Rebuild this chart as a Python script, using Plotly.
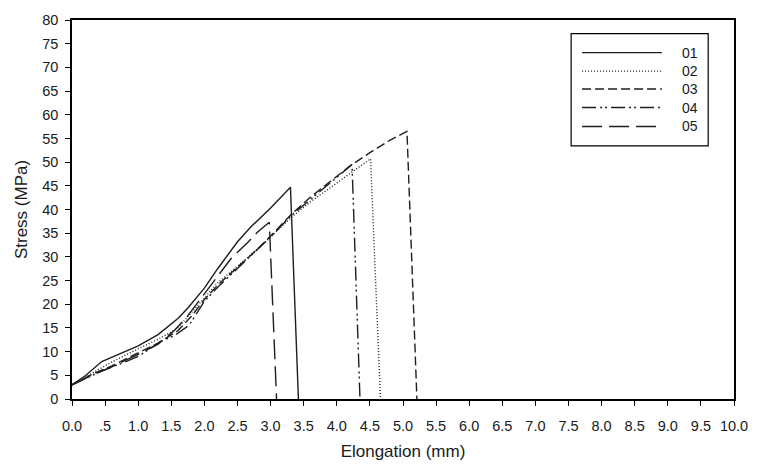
import plotly.graph_objects as go

# Stress–elongation curves for five specimens (elongation in mm, stress in MPa)
names = ["01", "02", "03", "04", "05"]

x01 = [0, 0.2, 0.45, 0.7, 1.0, 1.3, 1.6, 1.75, 2.0, 2.2, 2.5, 2.7, 3.0, 3.3, 3.42]
y01 = [3, 4.9, 7.9, 9.4, 11.2, 13.6, 17.0, 19.2, 23.4, 27.5, 33.2, 36.3, 40.3, 44.7, 0]

x02 = [0, 0.3, 0.6, 1.0, 1.3, 1.6, 1.8, 2.0, 2.2, 2.5, 2.8, 3.0, 3.3, 3.6, 3.9, 4.2, 4.51, 4.66]
y02 = [3, 5.4, 7.8, 10.6, 12.6, 15.0, 18.2, 21.5, 24.5, 28.0, 31.6, 34.2, 38.2, 41.6, 44.6, 47.6, 50.7, 0]

x03 = [0, 0.3, 0.6, 1.0, 1.3, 1.6, 1.8, 2.0, 2.2, 2.5, 2.8, 3.0, 3.3, 3.6, 3.9, 4.2, 4.5, 4.8, 5.06, 5.21]
y03 = [3, 5.2, 7.0, 9.8, 11.8, 14.4, 17.4, 21.0, 24.0, 27.8, 31.6, 34.4, 38.8, 42.6, 46.0, 49.2, 52.0, 54.6, 56.5, 0]

x04 = [0, 0.4, 0.8, 1.0, 1.35, 1.55, 1.77, 2.0, 2.2, 2.5, 2.8, 3.0, 3.3, 3.6, 3.9, 4.23, 4.35]
y04 = [3, 5.6, 7.8, 9.0, 12.2, 13.4, 15.6, 20.6, 23.6, 27.6, 31.4, 34.2, 38.6, 42.2, 45.6, 49.5, 0]

x05 = [0, 0.3, 0.6, 1.0, 1.3, 1.55, 1.75, 2.0, 2.2, 2.4, 2.65, 2.8, 2.98, 3.09]
y05 = [3, 5.0, 6.8, 9.4, 11.6, 14.5, 17.6, 22.3, 25.8, 29.6, 33.0, 35.2, 37.3, 0]

# Axis ticks
x_tickvals = [i * 0.5 for i in range(21)]
x_ticktext = ["0.0", ".5"] + [f"{v:.1f}" for v in x_tickvals[2:]]
y_tickvals = list(range(0, 85, 5))

xs = [x01, x02, x03, x04, x05]
ys = [y01, y02, y03, y04, y05]
dashes = ["solid", "1px,2px", "9px,4px", "14px,4px,2px,3px,2px,4px", "20px,7px"]
ink = "#1e1e1e"
font_family = "Liberation Sans, Arial"

fig = go.Figure()
for name, x, y, dash in zip(names, xs, ys, dashes):
    fig.add_trace(go.Scatter(
        x=x, y=y, name=name, mode="lines", showlegend=False,
        line=dict(color=ink, width=1.4, dash=dash),
    ))

axis_common = dict(
    showline=True, linecolor="black", linewidth=1.5, mirror=True,
    ticks="outside", ticklen=5, tickwidth=1.2, tickcolor="black",
    showgrid=False, zeroline=False,
    tickfont=dict(family=font_family, size=14.5, color="#1a1a1a"),
)

fig.update_xaxes(
    range=[0, 10], tickvals=x_tickvals, ticktext=x_ticktext, ticklabelstandoff=8,
    title=dict(text="Elongation (mm)", font=dict(family=font_family, size=17, color="#1a1a1a"), standoff=12),
    **axis_common,
)
fig.update_yaxes(
    range=[0, 80], tickvals=y_tickvals, ticklabelstandoff=4,
    title=dict(text="Stress (MPa)", font=dict(family=font_family, size=17, color="#1a1a1a"), standoff=10),
    **axis_common,
)

# Boxed legend in the upper right of the plot area
legend_box = dict(x0=0.754, x1=0.961, y0=0.668, y1=0.964)
sample_x0, sample_x1, label_x = 0.7705, 0.891, 0.918
row_y = [0.914, 0.865, 0.818, 0.769, 0.719]

shapes = [dict(type="rect", xref="paper", yref="paper", **legend_box,
               line=dict(color="black", width=1.2), fillcolor="white", layer="above")]
annotations = []
for name, dash, yy in zip(names, dashes, row_y):
    shapes.append(dict(type="line", xref="paper", yref="paper",
                       x0=sample_x0, x1=sample_x1, y0=yy, y1=yy,
                       line=dict(color=ink, width=1.4, dash=dash), layer="above"))
    annotations.append(dict(text=name, xref="paper", yref="paper", x=label_x, y=yy,
                            xanchor="left", yanchor="middle", showarrow=False,
                            font=dict(family=font_family, size=14, color="#1a1a1a")))

fig.update_layout(
    width=760, height=470,
    margin=dict(l=72, r=17, t=15, b=70),
    paper_bgcolor="white", plot_bgcolor="white",
    showlegend=False,
    shapes=shapes, annotations=annotations,
)

fig.write_html("out.html")
